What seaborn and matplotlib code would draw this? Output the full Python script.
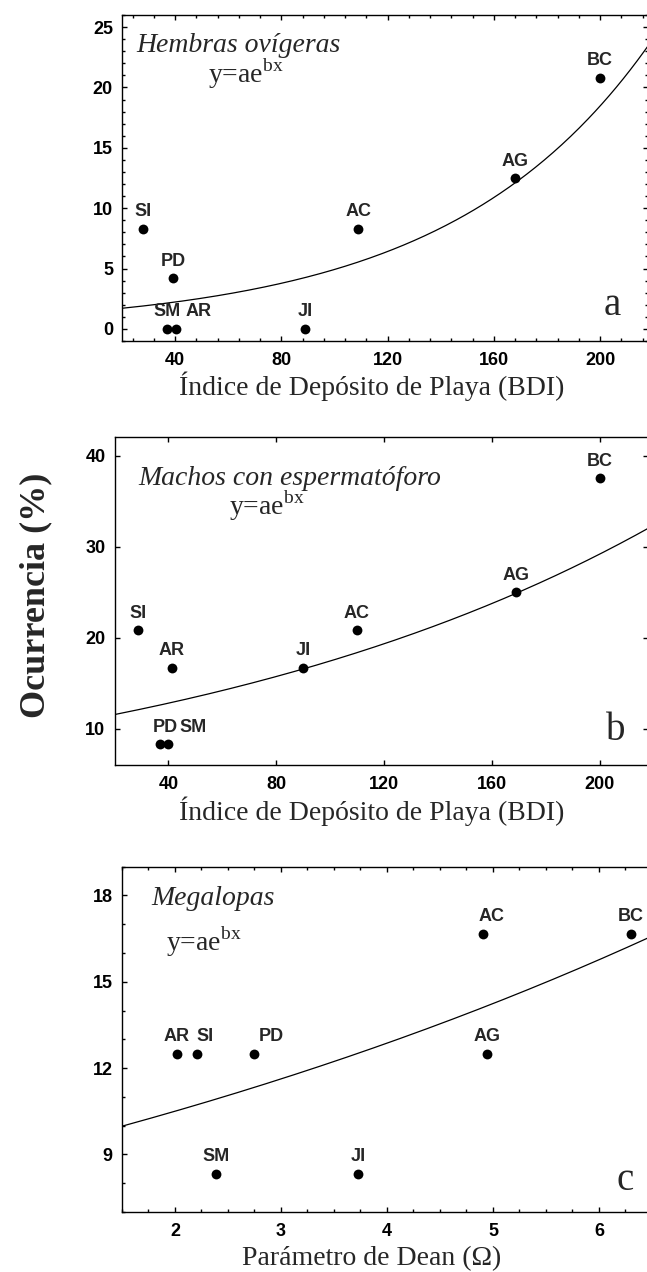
import numpy as np
import matplotlib
matplotlib.use("Agg")
import matplotlib.pyplot as plt
import seaborn as sns
from matplotlib.ticker import MultipleLocator, NullLocator

# ---------------- data ----------------
sites_a = ["SI", "PD", "SM", "AR", "JI", "AC", "AG", "BC"]
bdi_a = [28, 39.2, 37.0, 40.4, 89, 109, 168, 200]
occ_a = [8.3, 4.2, 0.0, 0.0, 0.0, 8.3, 12.5, 20.8]

sites_b = ["SI", "AR", "PD", "SM", "JI", "AC", "AG", "BC"]
bdi_b = [28.7, 41.2, 37.0, 40.0, 90, 110, 169, 200]
occ_b = [20.8, 16.7, 8.3, 8.3, 16.7, 20.8, 25.0, 37.5]

sites_c = ["AR", "SI", "PD", "SM", "JI", "AC", "AG", "BC"]
dean_c = [2.02, 2.21, 2.75, 2.39, 3.73, 4.91, 4.94, 6.30]
occ_c = [12.5, 12.5, 12.5, 8.33, 8.33, 16.67, 12.5, 16.67]

# fitted y = a*exp(b*x) parameters
fit_a = (1.313, 0.01322)
fit_b = (10.41, 0.00515)
fit_c = (8.57, 0.1016)

titles = ["Hembras ovígeras", "Machos con espermatóforo", "Megalopas"]
xlabels = ["Índice de Depósito de Playa (BDI)", "Índice de Depósito de Playa (BDI)",
           "Parámetro de Dean (Ω)"]
panel_letters = ["a", "b", "c"]
ylabel = "Ocurrencia (%)"

# ---------------- style ----------------
sns.set_style("ticks")
plt.rcParams["font.family"] = ["Liberation Sans", "DejaVu Sans"]
plt.rcParams["mathtext.fontset"] = "custom"
plt.rcParams["mathtext.rm"] = "Liberation Serif"

W, H = 647, 1272
fig = plt.figure(figsize=(W / 100, H / 100), dpi=100)

def fx(px):
    return px / W

def fy(py):
    return 1 - py / H

# label horizontal offsets in pixels (style only)
label_dx = [
    {"AR": 22},
    {"PD": 5, "SM": 25},
    {"SI": 8, "PD": 17, "AC": 8},
]

panels = [
    dict(rect=(122, 15, 648, 341), xlim=(20, 218), ylim=(-1, 26),
         xmin=8, ymaj=5, ymin=1, xt=[40, 80, 120, 160, 200],
         title_xy=(136, 52), eq_xy=(208, 83), letter_xy=(604, 315),
         xlabel_y=395),
    dict(rect=(114.5, 437.3, 648, 765), xlim=(20, 218), ylim=(6, 42),
         xmin=None, ymaj=10, ymin=None, xt=[40, 80, 120, 160, 200],
         title_xy=(138, 485), eq_xy=(229, 515), letter_xy=(606, 740),
         xlabel_y=820),
    dict(rect=(121.9, 866.7, 652, 1212), xlim=(1.5, 6.5), ylim=(7, 19),
         xmin=0.25, ymaj=3, ymin=1, xt=[2, 3, 4, 5, 6],
         title_xy=(151, 905), eq_xy=(166, 951), letter_xy=(617, 1190),
         xlabel_y=1265),
]

datasets = [
    (sites_a, bdi_a, occ_a, fit_a),
    (sites_b, bdi_b, occ_b, fit_b),
    (sites_c, dean_c, occ_c, fit_c),
]

for i, (p, (sites, xv, yv, fit)) in enumerate(zip(panels, datasets)):
    l, t, r, b = p["rect"]
    ax = fig.add_axes([fx(l), fy(b), (r - l) / W, (b - t) / H])
    ax.set_xlim(*p["xlim"])
    ax.set_ylim(*p["ylim"])

    # fitted curve
    xs = np.linspace(p["xlim"][0], p["xlim"][1], 300)
    ys = fit[0] * np.exp(fit[1] * xs)
    sns.lineplot(x=xs, y=ys, ax=ax, color="black", linewidth=0.9)

    # points
    sns.scatterplot(x=xv, y=yv, ax=ax, color="black", s=50, linewidth=0,
                    zorder=3)
    for s, x, y in zip(sites, xv, yv):
        dx = label_dx[i].get(s, 0) / 1.389
        ax.annotate(s, (x, y), xytext=(dx, 9), textcoords="offset points",
                    ha="center", va="baseline", fontsize=13,
                    fontweight="bold", family="Liberation Sans")

    # ticks
    ax.set_xticks(p["xt"])
    ax.yaxis.set_major_locator(MultipleLocator(p["ymaj"]))
    if p["xmin"]:
        ax.xaxis.set_minor_locator(MultipleLocator(p["xmin"]))
    else:
        ax.xaxis.set_minor_locator(NullLocator())
    if p["ymin"]:
        ax.yaxis.set_minor_locator(MultipleLocator(p["ymin"]))
    else:
        ax.yaxis.set_minor_locator(NullLocator())
    ax.tick_params(which="both", direction="in", top=True, right=True,
                   colors="black", width=1.0)
    ax.tick_params(which="major", length=3.5)
    ax.tick_params(which="minor", length=2.2)
    ax.tick_params(axis="x", which="major", pad=8)
    ax.tick_params(axis="y", which="major", pad=6.5)
    for lab in ax.get_xticklabels() + ax.get_yticklabels():
        lab.set_fontweight("bold")
        lab.set_fontsize(13)
        lab.set_family("Liberation Sans")
    for sp in ax.spines.values():
        sp.set_visible(True)
        sp.set_linewidth(1.0)
        sp.set_color("black")
    ax.set_xlabel("")
    ax.set_ylabel("")

    # texts
    tx, ty = p["title_xy"]
    fig.text(fx(tx), fy(ty), titles[i], family="Liberation Serif",
             style="italic", fontsize=20, ha="left", va="baseline")
    ex, ey = p["eq_xy"]
    fig.text(fx(ex), fy(ey), r"y=ae$^{\mathregular{bx}}$",
             family="Liberation Serif", fontsize=20, ha="left", va="baseline")
    lx, ly = p["letter_xy"]
    fig.text(fx(lx), fy(ly), panel_letters[i], family="Liberation Serif",
             fontsize=28, ha="left", va="baseline")
    fig.text(fx(372), fy(p["xlabel_y"]), xlabels[i], family="Liberation Serif",
             fontsize=20, ha="center", va="baseline")

fig.text(fx(36), fy(595), ylabel, family="Liberation Serif", fontweight="bold",
         fontsize=26, rotation=90, ha="center", va="center")

fig.savefig("out.png", dpi=100)
